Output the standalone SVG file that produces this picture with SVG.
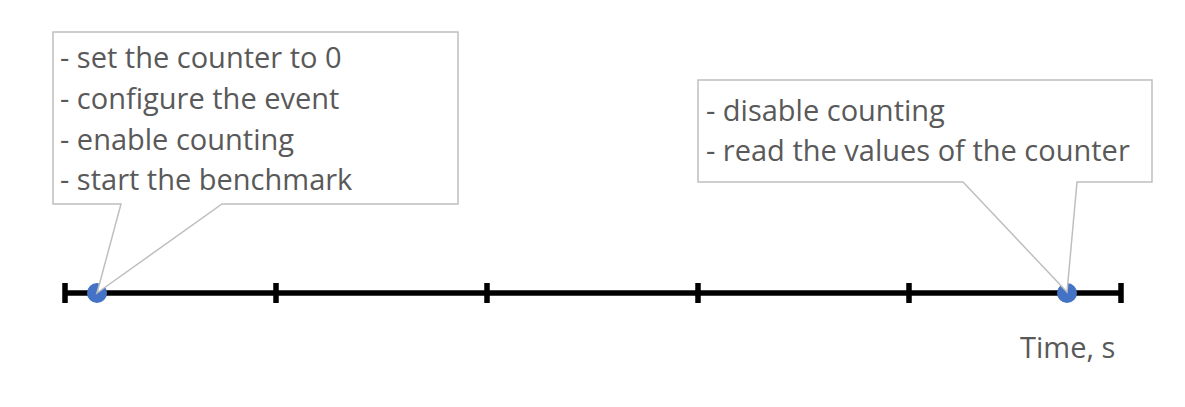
<svg xmlns="http://www.w3.org/2000/svg" width="1185" height="407" viewBox="0 0 1185 407">
<style>
.txt{font-family:"Open Sans","Noto Sans",sans-serif;font-size:29px;fill:#595959}
.callout{fill:#fff;stroke:#bfbfbf;stroke-width:1.5}
.tick{stroke:#000;stroke-width:5.5}
.dot{fill:#4472c4}
</style>
<rect width="1185" height="407" fill="#fff"/>
<g id="connectors">
<line x1="65" y1="293" x2="1121" y2="293" stroke="#000" stroke-width="5.5"/>
<line class="tick" x1="65" y1="283" x2="65" y2="303"/>
<line class="tick" x1="276" y1="283" x2="276" y2="303"/>
<line class="tick" x1="487" y1="283" x2="487" y2="303"/>
<line class="tick" x1="698" y1="283" x2="698" y2="303"/>
<line class="tick" x1="909" y1="283" x2="909" y2="303"/>
<line class="tick" x1="1121" y1="283" x2="1121" y2="303"/>
</g>
<g id="start-point"><circle class="dot" cx="97" cy="293" r="10"/></g>
<g id="end-point"><circle class="dot" cx="1067" cy="293" r="10"/></g>
<g id="callout-start">
<path class="callout" d="M53,32 H458 V204 H222 L97,293 L121,204 H53 Z"/>
<text class="txt" x="60" y="68">- set the counter to 0</text>
<text class="txt" x="60" y="109">- configure the event</text>
<text class="txt" x="60" y="150">- enable counting</text>
<text class="txt" x="60" y="190">- start the benchmark</text>
</g>
<g id="callout-end">
<path class="callout" d="M698,80 H1152 V182 H1077 L1067,292 L963,182 H698 Z"/>
<text class="txt" x="706" y="121">- disable counting</text>
<text class="txt" x="706" y="161">- read the values of the counter</text>
</g>
<g id="axis-label">
<text class="txt" x="1020" y="358">Time, s</text>
</g>
</svg>
